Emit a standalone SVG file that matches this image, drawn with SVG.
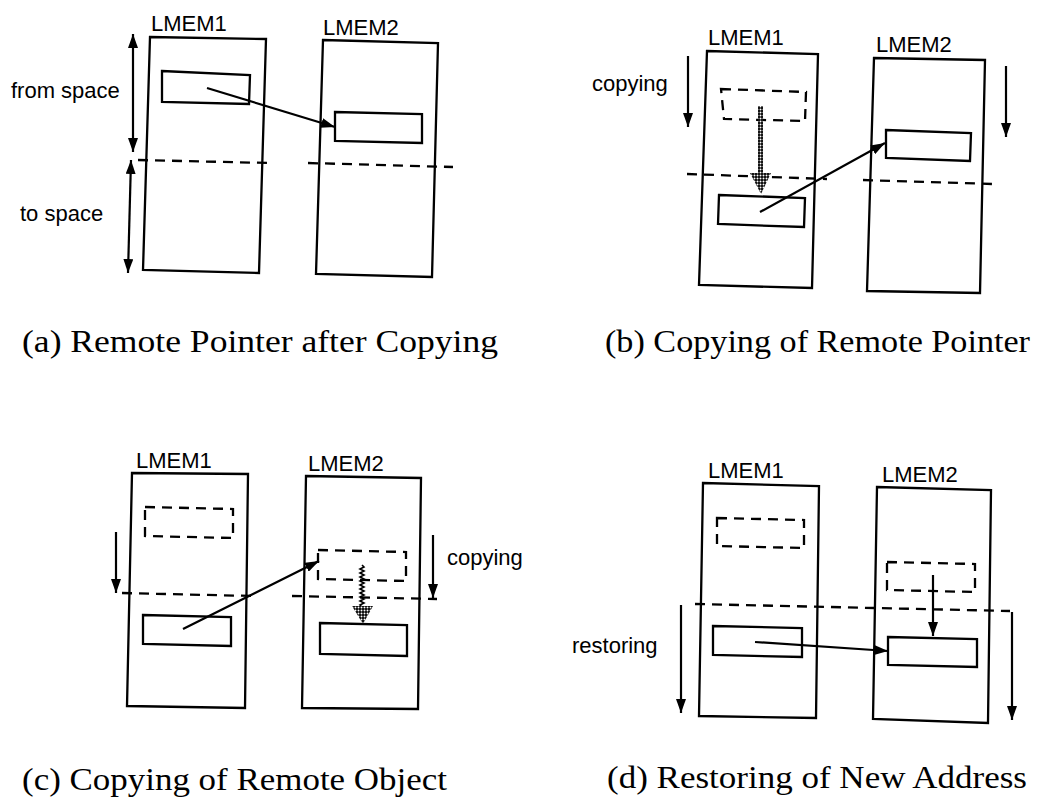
<svg xmlns="http://www.w3.org/2000/svg" width="1037" height="810" viewBox="0 0 1037 810">
<style>
.box{fill:none;stroke:#000;stroke-width:2.3;stroke-linejoin:miter}
.dbox{fill:none;stroke:#000;stroke-width:2.3;stroke-dasharray:10 7}
.dl{fill:none;stroke:#000;stroke-width:2.3;stroke-dasharray:10 7}
.ar{fill:none;stroke:#000;stroke-width:2.2;marker-end:url(#ah)}
.dar{fill:none;stroke:#000;stroke-width:2.2;marker-end:url(#ah);marker-start:url(#ah)}
.lbl{font-family:"Liberation Sans",Arial,sans-serif;font-size:22px;fill:#000}
.cap{font-family:"Liberation Serif","Times New Roman",serif;font-size:31px;fill:#000}
.chk{fill:url(#chk);stroke:none}
</style>
<defs>
<marker id="ah" viewBox="0 0 14 10" refX="14" refY="5" markerWidth="14" markerHeight="10" markerUnits="userSpaceOnUse" orient="auto-start-reverse">
<path d="M0,0 L14,5 L0,10 z" fill="#000"/>
</marker>
<pattern id="chk" width="3" height="3" patternUnits="userSpaceOnUse">
<rect width="3" height="3" fill="#000"/>
<circle cx="1.5" cy="1.5" r="1" fill="#fff"/>
</pattern>
</defs>
<rect width="1037" height="810" fill="#fff"/>

<!-- Panel (a) -->
<g id="panel-a">
<g id="a-lmem1"><polygon class="box" points="150,37 266,39 259,273 143,270"/><text class="lbl" x="151" y="31">LMEM1</text></g>
<g id="a-lmem2"><polygon class="box" points="323,40 438,43 432,277 316,274"/><text class="lbl" x="323" y="35">LMEM2</text></g>
<g id="a-obj1"><polygon class="box" points="162,71 250,75 249,104 162,102"/></g>
<g id="a-obj2"><polygon class="box" points="335,112 422,114 422,143 335,141"/></g>
<g id="a-from"><text class="lbl" x="11" y="98">from space</text></g>
<g id="a-to"><text class="lbl" x="20" y="221">to space</text></g>
<line class="dl" x1="138" y1="160" x2="270" y2="163"/>
<line class="dl" x1="308" y1="163" x2="453" y2="167"/>
<text class="cap" x="22" y="352" textLength="476" lengthAdjust="spacingAndGlyphs">(a) Remote Pointer after Copying</text>
</g>

<!-- Panel (b) -->
<g id="panel-b">
<g id="b-lmem1"><polygon class="box" points="707,51 818,54 812,288 699,285"/><text class="lbl" x="708" y="45">LMEM1</text></g>
<g id="b-lmem2"><polygon class="box" points="874,58 985,60 980,293 867,291"/><text class="lbl" x="876" y="52">LMEM2</text></g>
<g id="b-old"><polygon class="dbox" points="721,89 806,92 805,121 724,119"/></g>
<g id="b-new"><polygon class="box" points="719,195 805,198 804,227 718,224"/></g>
<g id="b-obj2"><polygon class="box" points="886,130 971,133 970,161 886,158"/></g>
<g id="b-copying"><text class="lbl" x="592" y="91">copying</text></g>
<line class="dl" x1="687" y1="174" x2="827" y2="179"/>
<line class="dl" x1="863" y1="180" x2="992" y2="184"/>
<text class="cap" x="605" y="352" textLength="425" lengthAdjust="spacingAndGlyphs">(b) Copying of Remote Pointer</text>
</g>

<!-- Panel (c) -->
<g id="panel-c">
<g id="c-lmem1"><polygon class="box" points="132,473 248,474 245,708 127,706"/><text class="lbl" x="136" y="468">LMEM1</text></g>
<g id="c-lmem2"><polygon class="box" points="306,476 421,478 418,709 302,708"/><text class="lbl" x="308" y="471">LMEM2</text></g>
<g id="c-old1"><polygon class="dbox" points="145,507 233,509 233,538 145,536"/></g>
<g id="c-new1"><polygon class="box" points="143,615 231,617 231,646 143,644"/></g>
<g id="c-old2"><polygon class="dbox" points="318,550 406,552 406,581 318,579"/></g>
<g id="c-new2"><polygon class="box" points="320,623 407,625 407,656 320,654"/></g>
<g id="c-copying"><text class="lbl" x="447" y="565">copying</text></g>
<line class="dl" x1="122" y1="593" x2="253" y2="596"/>
<line class="dl" x1="292" y1="596" x2="437" y2="599"/>
<text class="cap" x="22" y="790" textLength="425" lengthAdjust="spacingAndGlyphs">(c) Copying of Remote Object</text>
</g>

<!-- Panel (d) -->
<g id="panel-d">
<g id="d-lmem1"><polygon class="box" points="703,483 819,486 816,718 699,716"/><text class="lbl" x="708" y="478">LMEM1</text></g>
<g id="d-lmem2"><polygon class="box" points="877,487 991,490 988,723 873,719"/><text class="lbl" x="882" y="482">LMEM2</text></g>
<g id="d-old1"><polygon class="dbox" points="717,518 804,520 804,548 717,546"/></g>
<g id="d-old2"><polygon class="dbox" points="887,562 975,564 975,592 887,590"/></g>
<g id="d-new1"><polygon class="box" points="713,626 802,628 802,657 713,655"/></g>
<g id="d-new2"><polygon class="box" points="888,637 977,639 977,667 888,665"/></g>
<g id="d-restoring"><text class="lbl" x="572" y="653">restoring</text></g>
<line class="dl" x1="695" y1="604" x2="1010" y2="611"/>
<text class="cap" x="607" y="788" textLength="420" lengthAdjust="spacingAndGlyphs">(d) Restoring of New Address</text>
</g>

<!-- Connectors -->
<g id="connectors">
<line class="dar" x1="133" y1="34" x2="133" y2="152"/>
<line class="dar" x1="131" y1="160" x2="128" y2="273"/>
<line class="ar" x1="207" y1="88" x2="335" y2="127"/>

<line class="ar" x1="688" y1="56" x2="688" y2="127"/>
<line class="ar" x1="1006" y1="66" x2="1006" y2="137"/>
<rect class="chk" x="758" y="106" width="5" height="68"/>
<polygon class="chk" points="750,173 771,173 761,194"/>
<line class="ar" x1="760" y1="212" x2="885" y2="143"/>

<line class="ar" x1="116" y1="532" x2="116" y2="593"/>
<line class="ar" x1="433" y1="535" x2="433" y2="598"/>
<polyline fill="none" stroke="#000" stroke-width="1.6" points="362,565 364,567 360,569 364,571 360,573 364,575 360,577 364,579 360,581 364,583 360,585 364,587 360,589 364,591 360,593 364,595 360,597 364,599 360,601 364,603 360,605 362,607"/>
<polygon class="chk" points="352,606 373,606 363,624"/>
<line class="ar" x1="183" y1="629" x2="319" y2="561"/>

<line class="ar" x1="681" y1="605" x2="681" y2="713"/>
<line class="ar" x1="1012" y1="612" x2="1012" y2="720"/>
<line class="ar" x1="755" y1="642" x2="888" y2="651"/>
<line class="ar" x1="933" y1="575" x2="933" y2="636"/>
</g>
</svg>
